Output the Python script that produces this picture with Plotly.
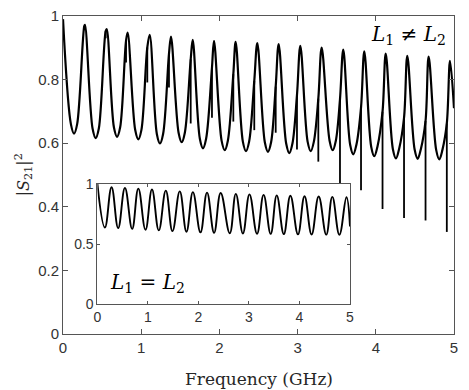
import plotly.graph_objects as go

# ---------------- main curve (L1 != L2) ----------------
start_f = [0.0]
start_v = [0.99]
end_f = [5.0]
end_v = [0.71]

peak_f = [0.281, 0.559, 0.827, 1.109, 1.381, 1.659, 1.931, 2.208, 2.485, 2.758,
          3.035, 3.308, 3.584, 3.853, 4.127, 4.403, 4.676, 4.949]
peak_v = [0.972, 0.959, 0.948, 0.941, 0.935, 0.925, 0.922, 0.919, 0.915, 0.912,
          0.906, 0.901, 0.894, 0.889, 0.882, 0.875, 0.872, 0.859]
trough_f = [0.141, 0.418, 0.691, 0.963, 1.240, 1.518, 1.790, 2.068, 2.340, 2.621,
            2.894, 3.168, 3.449, 3.712, 3.981, 4.258, 4.536, 4.812]
trough_v = [0.630, 0.616, 0.620, 0.612, 0.599, 0.603, 0.584, 0.578, 0.575, 0.573,
            0.569, 0.575, 0.578, 0.565, 0.559, 0.552, 0.551, 0.549]
# rounded bottoms: curve level a little to each side of every trough
trough_left_f = [0.101, 0.378, 0.651, 0.923, 1.200, 1.478, 1.750, 2.028, 2.300, 2.581,
                 2.854, 3.128, 3.409, 3.672, 3.941, 4.218, 4.496, 4.772]
trough_right_f = [0.181, 0.458, 0.731, 1.003, 1.280, 1.558, 1.830, 2.108, 2.380, 2.661,
                  2.934, 3.208, 3.489, 3.752, 4.021, 4.298, 4.576, 4.852]
trough_side_v = [0.660, 0.646, 0.650, 0.642, 0.629, 0.633, 0.614, 0.608, 0.605, 0.603,
                 0.599, 0.605, 0.608, 0.595, 0.589, 0.582, 0.581, 0.579]

# sharp resonances (Fano-like dips)
spike_f = [0.272, 0.546, 0.806, 1.078, 1.355, 1.633, 1.905, 2.178, 2.446, 2.720,
           2.992, 3.265, 3.542, 3.811, 4.086, 4.361, 4.636, 4.908]
spike_top = [0.968, 0.953, 0.922, 0.901, 0.880, 0.864, 0.838, 0.817, 0.796, 0.778,
             0.751, 0.740, 0.738, 0.712, 0.699, 0.680, 0.670, 0.662]
spike_bottom = [0.955, 0.930, 0.854, 0.791, 0.775, 0.662, 0.680, 0.668, 0.641, 0.633,
                0.580, 0.542, 0.470, 0.452, 0.393, 0.365, 0.357, 0.321]

# ---------------- inset curve (L1 = L2) ----------------
in_start_v = [1.0]
in_end_v = [0.647]
in_peak_f = [0.28, 0.545, 0.81, 1.08, 1.354, 1.63, 1.89, 2.17, 2.44, 2.74,
             3.01, 3.29, 3.55, 3.82, 4.10, 4.38, 4.65, 4.93]
in_peak_v = [0.972, 0.966, 0.961, 0.953, 0.944, 0.938, 0.932, 0.928, 0.925, 0.917,
             0.913, 0.909, 0.905, 0.902, 0.898, 0.895, 0.892, 0.889]
in_trough_f = [0.148, 0.411, 0.688, 0.952, 1.215, 1.486, 1.763, 2.04, 2.31, 2.62,
               2.88, 3.16, 3.43, 3.69, 3.97, 4.24, 4.53, 4.79]
in_trough_v = [0.638, 0.633, 0.627, 0.620, 0.614, 0.608, 0.603, 0.598, 0.594, 0.591,
               0.589, 0.587, 0.585, 0.583, 0.582, 0.580, 0.579, 0.578]

x_ticks = [0, 1, 2, 3, 4, 5]
y_ticks = [0, 0.2, 0.4, 0.6, 0.8, 1]
inset_y_ticks = [0, 0.5, 1]

# build the main curve table
pts = (list(zip(start_f, start_v)) + list(zip(trough_f, trough_v)) +
       list(zip(trough_left_f, trough_side_v)) + list(zip(trough_right_f, trough_side_v)) +
       list(zip(peak_f, peak_v)) + list(zip(spike_f, spike_top)) + list(zip(end_f, end_v)))
pts.sort()
main_x = [p[0] for p in pts]
main_y = [p[1] for p in pts]

sx, sy = [], []
for f, t, b in zip(spike_f, spike_top, spike_bottom):
    sx += [f, f, None]
    sy += [t, b, None]

ipts = (list(zip(start_f, in_start_v)) + list(zip(in_trough_f, in_trough_v)) +
        list(zip(in_peak_f, in_peak_v)) + list(zip(end_f, in_end_v)))
ipts.sort()
in_x = [p[0] for p in ipts]
in_y = [p[1] for p in ipts]

fig = go.Figure()
fig.add_trace(go.Scatter(x=main_x, y=main_y, mode="lines",
                         line=dict(color="black", width=2.2, shape="spline", smoothing=1.0),
                         showlegend=False, hoverinfo="skip"))
fig.add_trace(go.Scatter(x=sx, y=sy, mode="lines",
                         line=dict(color="black", width=1.8),
                         showlegend=False, hoverinfo="skip"))
fig.add_trace(go.Scatter(x=in_x, y=in_y, mode="lines", xaxis="x2", yaxis="y2",
                         line=dict(color="black", width=1.9, shape="spline", smoothing=1.2),
                         showlegend=False, hoverinfo="skip"))

axcol = "#262626"
tickc = "#333333"


def axis(size, ticklen):
    return dict(showline=True, linecolor="#555555", linewidth=1, mirror="ticks",
                ticks="inside", tickcolor="#555555", ticklen=ticklen, showgrid=False,
                zeroline=False, automargin=False, ticklabeloverflow="allow",
                tickfont=dict(family="Liberation Sans, Arial", size=size, color=tickc))


fig.update_layout(
    template="none",
    width=461, height=382,
    margin=dict(l=55, r=15, t=8, b=56, autoexpand=False),
    paper_bgcolor="white", plot_bgcolor="white",
    xaxis=dict(domain=[0, 1], range=[0, 5], tickvals=x_ticks, **axis(15, 5)),
    yaxis=dict(domain=[0, 1], range=[0, 1], tickvals=y_ticks, **axis(15, 5)),
    xaxis2=dict(domain=[0.088, 0.734], anchor="y2", range=[0, 5], tickvals=x_ticks,
                **axis(14, 3)),
    yaxis2=dict(domain=[0.093, 0.472], anchor="x2", range=[0, 1], tickvals=inset_y_ticks,
                **axis(14, 3)),
    annotations=[
        dict(text="Frequency (GHz)", x=0.5, y=-0.14, xref="paper", yref="paper",
             xanchor="center", yanchor="middle", showarrow=False,
             font=dict(family="DejaVu Serif", size=17, color=axcol)),
        dict(text="|<i>S</i><sub>21</sub>|<sup>2</sup>", x=-0.136, y=0.5,
             xref="paper", yref="paper", xanchor="left", yanchor="middle",
             textangle=-90, showarrow=False,
             font=dict(family="DejaVu Serif", size=16, color=axcol)),
        dict(text="<i>L</i><sub>1</sub> ≠ <i>L</i><sub>2</sub>", x=4.92, y=0.94,
             xref="x", yref="y", xanchor="right", yanchor="middle", showarrow=False,
             font=dict(family="DejaVu Serif", size=20, color="black")),
        dict(text="<i>L</i><sub>1</sub> = <i>L</i><sub>2</sub>", x=0.2, y=0.18,
             xref="x2", yref="y2", xanchor="left", yanchor="middle", showarrow=False,
             font=dict(family="DejaVu Serif", size=20, color="black")),
    ],
)

fig.write_html("out.html")
